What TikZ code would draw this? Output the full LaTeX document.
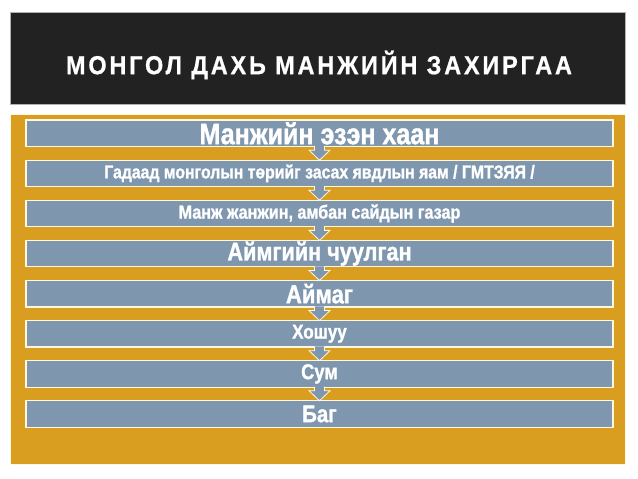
\documentclass[tikz,border=0pt]{standalone}
\usepackage{fontspec}
\setmainfont{Liberation Sans}
\newfontfamily\boxfont[FakeStretch=0.85,FakeBold=1.2]{Liberation Sans}
\newfontfamily\titlefont[FakeStretch=0.9,LetterSpace=11,FakeBold=0.8]{Liberation Sans}
\usepackage{xcolor}
\usetikzlibrary{calc,positioning}
\definecolor{panelorange}{RGB}{217,158,32}
\definecolor{levelblue}{RGB}{127,151,174}
\definecolor{titleblack}{RGB}{34,34,34}
\definecolor{edgecream}{RGB}{255,248,222}
\newcommand{\fs}[1]{\fontsize{#1}{#1}\selectfont}
\tikzset{%
	titlebar/.style  = {fill=titleblack, draw=gray!60, line width=0.8pt},
	panel/.style     = {fill=panelorange, draw=edgecream, line width=0.6pt},
	levelbox/.style  = {draw=edgecream, fill=levelblue, line width=1.2pt, rectangle, minimum width=587pt, minimum height=26.5pt, inner sep=0pt, text=white},
	downarrow/.style = {fill=levelblue, draw=edgecream, line width=0.8pt},
}

\begin{document}
\begin{tikzpicture}[x=1pt,y=-1pt]
	\useasboundingbox[fill=white] (0,0) rectangle (638,479);
	\draw[titlebar] (10,12) rectangle (625,104);
	\node[text=white, font=\titlefont\bfseries\fs{26}] (title) at (319,65) {МОНГОЛ ДАХЬ МАНЖИЙН ЗАХИРГАА};
	\draw[panel] (10,114) rectangle (625,464);
	
	\node[levelbox, font=\boxfont\bfseries\fs{29.5}] (b1) at (319.5,133.3) {Манжийн эзэн хаан};
	\node[levelbox, font=\boxfont\bfseries\fs{18.6}] (b2) at (319.5,173.4) {Гадаад монголын төрийг засах явдлын яам / ГМТЗЯЯ /};
	\node[levelbox, font=\boxfont\bfseries\fs{19}] (b3) at (319.5,213.5) {Манж жанжин, амбан сайдын газар};
	\node[levelbox, font=\boxfont\bfseries\fs{25.5}] (b4) at (319.5,253.6) {Аймгийн чуулган};
	\node[levelbox, font=\boxfont\bfseries\fs{26}] (b5) at (319.5,293.7) {Аймаг};
	\node[levelbox, font=\boxfont\bfseries\fs{20}] (b6) at (319.5,333.8) {Хошуу};
	\node[levelbox, font=\boxfont\bfseries\fs{21.5}] (b7) at (319.5,373.9) {Сум};
	\node[levelbox, font=\boxfont\bfseries\fs{24}] (b8) at (319.5,414.0) {Баг};
	
	\foreach \i/\j in {b1/b2,b2/b3,b3/b4,b4/b5,b5/b6,b6/b7,b7/b8}
		\filldraw[downarrow] ($(\i.south)+(-5,-1.2)$) -- ($(\i.south)+(-5,3)$) -- ($(\i.south)+(-10.5,3)$)
			-- ($(\j.north)+(0,0.6)$) -- ($(\i.south)+(10.5,3)$) -- ($(\i.south)+(5,3)$) -- ($(\i.south)+(5,-1.2)$);
\end{tikzpicture}
\end{document}
